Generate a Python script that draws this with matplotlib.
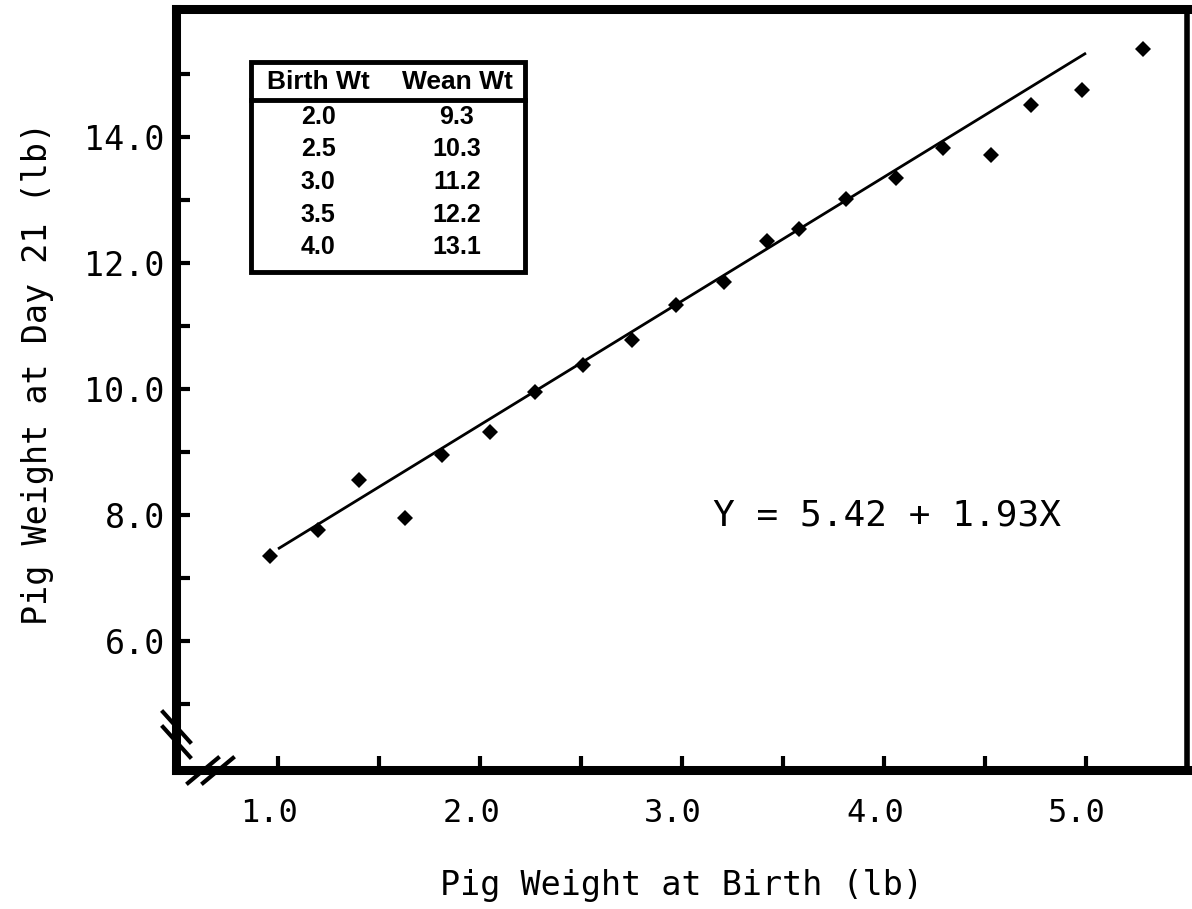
import matplotlib
matplotlib.use("Agg")
import matplotlib.pyplot as plt
from matplotlib.patches import Rectangle
from matplotlib.lines import Line2D
from matplotlib.transforms import ScaledTranslation

# ---------------- data ----------------
birth_wt = [0.96, 1.20, 1.40, 1.63, 1.81, 2.05, 2.27, 2.51, 2.75, 2.97,
            3.21, 3.42, 3.58, 3.81, 4.06, 4.29, 4.53, 4.73, 4.98, 5.28]
day21_wt = [7.35, 7.76, 8.56, 7.95, 8.95, 9.32, 9.95, 10.38, 10.78, 11.33,
            11.70, 12.35, 12.54, 13.02, 13.35, 13.83, 13.71, 14.51, 14.75, 15.40]

fit_x = [1.0, 5.0]
fit_y = [7.46, 15.33]

x_major = [1.0, 2.0, 3.0, 4.0, 5.0]
x_minor = [1.5, 2.5, 3.5, 4.5]
y_major = [6.0, 8.0, 10.0, 12.0, 14.0]
y_minor = [5.0, 7.0, 9.0, 11.0, 13.0, 15.0]

table_header = ["Birth Wt", "Wean Wt"]
table_birth = ["2.0", "2.5", "3.0", "3.5", "4.0"]
table_wean = ["9.3", "10.3", "11.2", "12.2", "13.1"]

equation = "Y = 5.42 + 1.93X"
xlabel = "Pig Weight at Birth (lb)"
ylabel = "Pig Weight at Day 21 (lb)"

# ---------------- figure ----------------
W, H = 1192, 909
fig = plt.figure(figsize=(W / 100, H / 100), dpi=100)
fig.patch.set_facecolor("white")

L, R, T, B = 176, 1187, 9, 770
ax = fig.add_axes([L / W, 1 - B / H, (R - L) / W, (B - T) / H])
ax.set_xlim(0.495, 5.50)
ax.set_ylim(3.95, 16.03)

mono = "DejaVu Sans Mono"

ax.plot(fit_x, fit_y, color="black", lw=2.0, solid_capstyle="butt", zorder=2)
ax.plot(birth_wt, day21_wt, linestyle="none", marker="D", ms=8.4,
        color="black", mew=0, zorder=3)

for side in ["left", "bottom", "top"]:
    ax.spines[side].set_linewidth(6.5)
ax.spines["right"].set_linewidth(4.0)

ax.set_xticks(x_major)
ax.set_xticks(x_minor, minor=True)
ax.set_yticks(y_major)
ax.set_yticks(y_minor, minor=True)
ax.set_xticklabels([f"{v:.1f}" for v in x_major], fontfamily=mono, fontsize=23)
ax.set_yticklabels([f"{v:.1f}" for v in y_major], fontfamily=mono, fontsize=24)
ax.tick_params(axis="both", which="both", direction="in", length=10, width=3,
               color="black", top=False, right=False)
ax.tick_params(axis="x", which="major", pad=20)
ax.tick_params(axis="y", which="major", pad=8)

shift = ScaledTranslation(-9 / 100, 0, fig.dpi_scale_trans)
for lab in ax.get_xticklabels():
    lab.set_transform(lab.get_transform() + shift)

# axis labels
fig.text(681 / W, 1 - 885 / H, xlabel, fontfamily=mono, fontsize=24,
         ha="center", va="center")
fig.text(38 / W, 1 - 373 / H, ylabel, fontfamily=mono, fontsize=24,
         ha="center", va="center", rotation=90)

# equation
ax.text(0.703, 0.334, equation, transform=ax.transAxes, fontfamily=mono,
        fontsize=26, ha="center", va="center")

# axis break marks
def ax_frac(px, py):
    return (px - L) / (R - L), (B - py) / (B - T)

breaks = [((163, 712), (190, 742)), ((163, 727), (190, 757)),
          ((188, 783), (218, 758)), ((203, 783), (233, 758))]
for (p0, p1) in breaks:
    a = ax_frac(*p0)
    b = ax_frac(*p1)
    ax.add_line(Line2D([a[0], b[0]], [a[1], b[1]], transform=ax.transAxes,
                       color="black", lw=3, clip_on=False, zorder=5))

# inset table
tl, tr_, tt, tb, th = 251, 525, 62, 272, 100
x0, y0 = ax_frac(tl, tb)
x1, y1 = ax_frac(tr_, tt)
ax.add_patch(Rectangle((x0, y0), x1 - x0, y1 - y0, transform=ax.transAxes,
                       facecolor="white", edgecolor="black", lw=3.5, zorder=4))
hy = ax_frac(0, th)[1]
ax.add_line(Line2D([x0, x1], [hy, hy], transform=ax.transAxes, color="black",
                   lw=3.5, zorder=5))
col_x = [ax_frac(318, 0)[0], ax_frac(457, 0)[0]]
head_y = ax_frac(0, 82)[1]
tfont = "Liberation Sans"
for cx, txt in zip(col_x, table_header):
    ax.text(cx, head_y, txt, transform=ax.transAxes, fontfamily=tfont,
            fontweight="bold", fontsize=19, ha="center", va="center", zorder=6)
row0, step = 117, 32.5
for i, (bw, ww) in enumerate(zip(table_birth, table_wean)):
    ry = ax_frac(0, row0 + i * step)[1]
    ax.text(col_x[0], ry, bw, transform=ax.transAxes, fontfamily=tfont,
            fontweight="bold", fontsize=18, ha="center", va="center", zorder=6)
    ax.text(col_x[1], ry, ww, transform=ax.transAxes, fontfamily=tfont,
            fontweight="bold", fontsize=18, ha="center", va="center", zorder=6)

fig.savefig("out.png", dpi=100, facecolor="white")
